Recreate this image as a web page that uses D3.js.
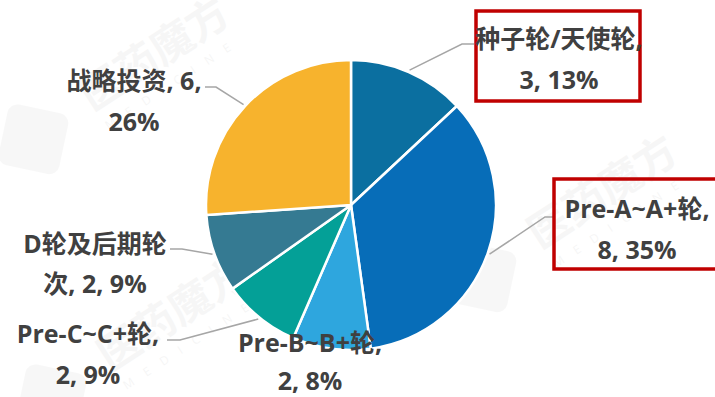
<!DOCTYPE html>
<html>
<head>
<meta charset="utf-8">
<script src="https://cdn.jsdelivr.net/npm/d3@7"></script>
<style>
  html, body { margin: 0; padding: 0; background: #ffffff; }
  svg { display: block; }
</style>
</head>
<body>
<svg id="chart" width="715" height="397"></svg>
<script>
// Financing rounds: category names, deal counts and the stated shares
const categories = ["种子轮/天使轮", "Pre-A~A+轮", "Pre-B~B+轮", "Pre-C~C+轮", "D轮及后期轮次", "战略投资"];
const counts = [3, 8, 2, 2, 2, 6];
const percentLabels = ["13%", "35%", "8%", "9%", "9%", "26%"];
const sliceColors = ["#0b6fa0", "#076db8", "#2ea6de", "#04a097", "#357a92", "#f7b32d"];

// Label layout: centre of first line, line gap, where the text wraps, and leader elbow/end points
const labelLayout = [
  { x: 559, y: 38,  gap: 41, wrap: 8,  elbow: [462, 44],  end: [474, 44]  },
  { x: 637, y: 208, gap: 41, wrap: 11, elbow: [545, 217], end: [554, 217] },
  { x: 310, y: 342, gap: 38, wrap: 11, elbow: null,       end: null       },
  { x: 88,  y: 333, gap: 41, wrap: 11, elbow: [180, 340], end: [167, 340] },
  { x: 95,  y: 243, gap: 40, wrap: 6,  elbow: [182, 249], end: [170, 249] },
  { x: 134, y: 80,  gap: 41, wrap: 8,  elbow: [216, 87],  end: [205, 87]  }
];

const svg = d3.select("#chart");
const cx = 351, cy = 205, radius = 145;
const font = "'Open Sans','Noto Sans CJK SC','Noto Sans',sans-serif";

// Faint brand watermarks in the background
const marks = [
  { x: 92,  y: 112, angle: -33 },
  { x: 540, y: 250, angle: -33 },
  { x: 110, y: 372, angle: -33 }
];
const wm = svg.append("g").attr("class", "watermarks");
marks.forEach(m => {
  const g = wm.append("g").attr("transform", `translate(${m.x},${m.y}) rotate(${m.angle})`);
  g.append("rect")
    .attr("x", -95).attr("y", -40).attr("width", 62).attr("height", 62)
    .attr("rx", 10)
    .attr("transform", "rotate(45,-64,-9)")
    .attr("fill", "#000").attr("opacity", 0.03);
  g.append("text")
    .attr("x", 0).attr("y", 0)
    .attr("font-family", font).attr("font-weight", 700).attr("font-size", 42)
    .attr("fill", "#000").attr("opacity", 0.03)
    .text("医药魔方");
  g.append("text")
    .attr("x", 4).attr("y", 24)
    .attr("font-family", font).attr("font-size", 12)
    .attr("letter-spacing", 13)
    .attr("fill", "#000").attr("opacity", 0.035)
    .text("MEDICINE");
});

// Pie slices, clockwise from 12 o'clock
const pie = d3.pie().value(d => d.count).sort(null);
const data = categories.map((c, i) => ({ category: c, count: counts[i], pct: percentLabels[i], color: sliceColors[i], i }));
const arcs = pie(data);
const arc = d3.arc().innerRadius(0).outerRadius(radius);
const outerPoint = d3.arc().innerRadius(radius + 2).outerRadius(radius + 2);

const chart = svg.append("g").attr("transform", `translate(${cx},${cy})`);
chart.selectAll("path.slice")
  .data(arcs)
  .join("path")
  .attr("class", "slice")
  .attr("d", arc)
  .attr("fill", d => d.data.color)
  .attr("stroke", "#ffffff")
  .attr("stroke-width", 2.5)
  .attr("stroke-linejoin", "round");

// Leader lines from the slice edge to the label
svg.append("g").selectAll("polyline")
  .data(arcs.filter(d => labelLayout[d.data.i].elbow))
  .join("polyline")
  .attr("points", d => {
    const [px, py] = outerPoint.centroid(d);
    const L = labelLayout[d.data.i];
    return [[px + cx, py + cy], L.elbow, L.end].map(p => p.join(",")).join(" ");
  })
  .attr("fill", "none")
  .attr("stroke", "#a6a6a6")
  .attr("stroke-width", 1.5);

// Highlight boxes around the early-stage labels
const boxes = [
  { x: 476, y: 11,  w: 164, h: 90 },
  { x: 554, y: 179, w: 170, h: 90 }
];
svg.append("g").selectAll("rect")
  .data(boxes)
  .join("rect")
  .attr("x", d => d.x).attr("y", d => d.y)
  .attr("width", d => d.w).attr("height", d => d.h)
  .attr("fill", "none")
  .attr("stroke", "#c00000")
  .attr("stroke-width", 3.5);

// Two-line data labels: "category, count, share"
const labels = svg.append("g").selectAll("text.label")
  .data(data)
  .join("text")
  .attr("class", "label")
  .attr("font-family", font)
  .attr("font-weight", 700)
  .attr("font-size", 25)
  .attr("fill", "#404040")
  .attr("text-anchor", "middle")
  .attr("dominant-baseline", "central");

labels.each(function(d) {
  const L = labelLayout[d.i];
  const full = `${d.category}, ${d.count}, ${d.pct}`;
  const lines = [full.slice(0, L.wrap).trim(), full.slice(L.wrap).trim()];
  d3.select(this).selectAll("tspan")
    .data(lines)
    .join("tspan")
    .attr("x", L.x)
    .attr("y", (t, k) => L.y + k * L.gap)
    .text(t => t);
});
</script>
</body>
</html>
